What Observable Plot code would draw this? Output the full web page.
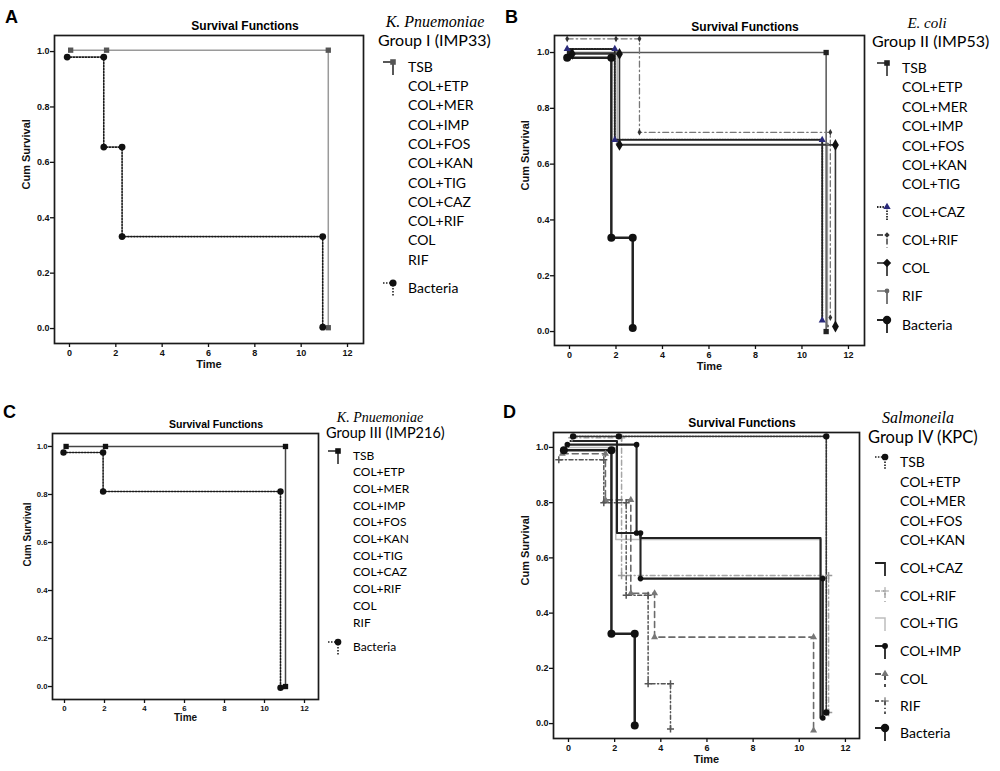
<!DOCTYPE html>
<html><head><meta charset="utf-8">
<script src="https://cdn.jsdelivr.net/npm/d3@7"></script>
<script src="https://cdn.jsdelivr.net/npm/@observablehq/plot@0.6"></script>
<style>
body{margin:0;background:#fff;}
#fig{position:relative;width:1000px;height:771px;overflow:hidden;font-family:"Liberation Sans",Arial,sans-serif;color:#000;}
.abs{position:absolute;white-space:nowrap;line-height:1;}
.letter{font-weight:bold;font-size:18px;}
.ptitle{font-weight:bold;transform:translate(-50%,-50%);}
.species{font-family:"Liberation Serif","Times New Roman",serif;font-style:italic;transform:translate(-50%,-50%);}
.group{font-family:Lato,"Open Sans",sans-serif;transform:translateY(-50%);}
.leg{font-family:Lato,"Open Sans",sans-serif;transform:translateY(-50%);}
</style>
</head><body>
<div id="fig"></div>
<script>
// ---------------- DATA ----------------
const timeTicks = [0, 2, 4, 6, 8, 10, 12];
const survTicks = [0, 0.2, 0.4, 0.6, 0.8, 1.0];

// Panel A: K. Pnuemoniae Group I (IMP33)  [time, cum survival]
const aTSB      = [[0.05,1.005],[1.6,1.005],[11.17,1.005],[11.17,0.003]];
const aBacteria = [[-0.1,0.98],[1.48,0.98],[1.48,0.655],[2.27,0.655],[2.27,0.332],[10.93,0.332],[10.93,0.005]];

// Panel B: E. coli Group II (IMP53)
const bTSB      = [[0,1.0],[11.04,1.0],[11.04,0.0]];
const bCOLCAZ   = [[-0.1,1.013],[1.95,1.013],[1.95,0.687],[10.87,0.687],[10.87,0.04]];
const bCOLRIF   = [[-0.1,1.049],[2.0,1.049],[3.01,1.049],[3.01,0.714],[11.22,0.714],[11.22,0.05]];
const bCOL      = [[0.12,0.995],[2.15,0.995],[2.15,0.669],[11.44,0.669],[11.44,0.018]];
const bRIF      = [[0.05,1.0],[2.05,1.0],[2.05,0.672],[11.1,0.672],[11.1,0.02]];
const bBacteria = [[-0.1,0.981],[1.8,0.981],[1.8,0.336],[2.72,0.336],[2.72,0.013]];

// Panel C: K. Pnuemoniae Group III (IMP216)
const cTSB      = [[0.08,1.0],[2.05,1.0],[11.05,1.0],[11.05,0.0]];
const cBacteria = [[-0.05,0.975],[1.93,0.975],[1.93,0.8125],[10.8,0.8125],[10.8,-0.005]];

// Panel D: Salmoneila Group IV (KPC)
const dTSB      = [[0.2,1.04],[2.18,1.04],[11.17,1.04],[11.17,0.04]];
const dCOLCAZ   = [[0.09,1.023],[2.1,1.023],[2.1,0.69],[3.12,0.69],[3.12,0.672],[10.92,0.672],[10.92,0.02]];
const dCOLRIF   = [[0.15,1.035],[2.3,1.035],[2.3,0.536],[11.27,0.536],[11.27,0.04]];
const dCOLTIG   = [[0.0,1.0],[2.05,1.0],[2.05,0.667],[10.95,0.667],[10.95,0.03]];
const dCOLIMP   = [[-0.05,1.01],[2.95,1.01],[2.95,0.69],[3.12,0.69],[3.12,0.525],[11.02,0.525],[11.02,0.02]];
const dCOL      = [[-0.27,0.977],[1.6,0.977],[1.6,0.81],[2.7,0.81],[2.7,0.472],[3.73,0.472],[3.73,0.313],[10.62,0.313],[10.62,-0.025]];
const dRIF      = [[-0.42,0.955],[1.53,0.955],[1.53,0.8],[2.5,0.8],[2.5,0.465],[3.45,0.465],[3.45,0.144],[4.42,0.144],[4.42,-0.02]];
const dBacteria = [[-0.2,0.99],[1.86,0.99],[1.86,0.325],[2.87,0.325],[2.87,-0.007]];

// Legend labels
const legendABC = ["TSB","COL+ETP","COL+MER","COL+IMP","COL+FOS","COL+KAN","COL+TIG","COL+CAZ","COL+RIF","COL","RIF","Bacteria"];
const legendD   = ["TSB","COL+ETP","COL+MER","COL+FOS","COL+KAN","COL+CAZ","COL+RIF","COL+TIG","COL+IMP","COL","RIF","Bacteria"];

// ---------------- STYLES / LAYOUT ----------------
const st = {
  aTSB:{stroke:"#9a9a9a",width:1.5,symbol:"square",r:3,mfill:"#555"},
  aBac:{stroke:"#1a1a1a",width:1.6,dash:"1.5,1.5",symbol:"circle",r:3.4,mfill:"#111"},
  bTSB:{stroke:"#555",width:1.5,symbol:"square",r:3,mfill:"#222"},
  bCAZ:{stroke:"#222",width:2,dash:"1.5,1.2",symbol:"triangle",r:2.6,mfill:"#2a2a7a"},
  bCRF:{stroke:"#777",width:1.3,dash:"6,3,1.5,3",symbol:"diamond",r:2,mfill:"#333"},
  bCOL:{stroke:"#333",width:1.6,symbol:"diamond",r:3.6,mfill:"#111"},
  bRIF:{stroke:"#9a9a9a",width:1.2,symbol:"circle",r:1.5,mfill:"#666"},
  bBac:{stroke:"#222",width:2.5,symbol:"circle",r:4,mfill:"#111"},
  cTSB:{stroke:"#444",width:1.5,symbol:"square",r:3,mfill:"#111"},
  cBac:{stroke:"#1a1a1a",width:1.6,dash:"1.5,1.5",symbol:"circle",r:3.2,mfill:"#111"},
  dTSB:{stroke:"#333",width:1.7,dash:"1.5,1.4",symbol:"circle",r:3.2,mfill:"#111"},
  dCAZ:{stroke:"#222",width:2.1},
  dCRF:{stroke:"#a5a5a5",width:1.5,dash:"5,3,1,3",symbol:"plus",r:2.5,mfill:"#999"},
  dTIG:{stroke:"#bdbdbd",width:1.5},
  dIMP:{stroke:"#222",width:2.1,symbol:"circle",r:2.8,mfill:"#111"},
  dCOL:{stroke:"#6a6a6a",width:1.6,dash:"6,4",symbol:"triangle",r:2.6,mfill:"#777"},
  dRIF:{stroke:"#555",width:1.5,dash:"4,2.5,1.2,2.5",symbol:"plus",r:2.4,mfill:"#555"},
  dBac:{stroke:"#222",width:2.5,symbol:"circle",r:4,mfill:"#111"}
};

const panels = [
  {left:0, top:0, width:372, height:385, m:[35,9,42,54], x:[-0.647,12.69], y:[-0.054,1.058], timeDy:24, cumDx:-28, tickFs:9, labFs:11, titleFs:12,
   series:[[aTSB,st.aTSB],[aBacteria,st.aBac]],
   letter:["A",5,8], title:[245,26], species:["K. Pnuemoniae",435,22,16], group:["Group I (IMP33)",378,40,16],
   legend:legendABC, legX:408, legFs:14, legY:[67,86,105,125,144,163,183,202,221,240,260,288],
   icons:{0:st.aTSB, 11:st.aBac}},
  {left:500, top:0, width:372, height:385, m:[35,8,40,54], x:[-0.645,12.69], y:[-0.05,1.061], timeDy:24, cumDx:-29, tickFs:9, labFs:11, titleFs:12,
   series:[[bRIF,st.bRIF],[bTSB,st.bTSB],[bCOLRIF,st.bCRF],[bCOLCAZ,st.bCAZ],[bCOL,st.bCOL],[bBacteria,st.bBac]],
   letter:["B",505,8], title:[745,27], species:["E. coli",927,23,15], group:["Group II (IMP53)",872,41,16],
   legend:legendABC, legX:902, legFs:14, legY:[68,87,107,126,146,165,184,212,240,268,296,325],
   icons:{0:st.bTSB, 7:st.bCAZ, 8:st.bCRF, 9:st.bCOL, 10:st.bRIF, 11:st.bBac}},
  {left:0, top:390, width:330, height:381, m:[43,12,72,52], x:[-0.6,12.7], y:[-0.054,1.054], timeDy:21, cumDx:-25, tickFs:7.8, labFs:10, titleFs:10.5,
   series:[[cTSB,st.cTSB],[cBacteria,st.cBac]],
   letter:["C",3,403], title:[216,424], species:["K. Pnuemoniae",380,418,14], group:["Group III (IMP216)",326,433,14.5],
   legend:legendABC, legX:353, legFs:12, legY:[456,472,489,506,522,539,556,572,589,606,623,647],
   icons:{0:st.cTSB, 11:st.cBac}},
  {left:500, top:390, width:370, height:381, m:[42,11,33,53], x:[-0.65,12.61], y:[-0.054,1.054], timeDy:24, cumDx:-28, tickFs:9, labFs:11, titleFs:12,
   series:[[dCOLTIG,st.dTIG],[dCOLRIF,st.dCRF],[dCOL,st.dCOL],[dRIF,st.dRIF],[dCOLCAZ,st.dCAZ],[dCOLIMP,st.dIMP],[dTSB,st.dTSB],[dBacteria,st.dBac]],
   letter:["D",503,403], title:[742,423], species:["Salmoneila",918,418,16], group:["Group IV (KPC)",868,437,16.5],
   legend:legendD, legX:900, legFs:14, legY:[462,482,501,521,540,568,596,623,651,679,706,733],
   icons:{0:st.dTSB, 5:st.dCAZ, 6:st.dCRF, 7:st.dTIG, 8:st.dIMP, 9:st.dCOL, 10:st.dRIF, 11:st.dBac}}
];

const fig = document.getElementById("fig");
function addDiv(cls, text, left, top, extra){
  const d = document.createElement("div");
  d.className = "abs " + cls; d.textContent = text;
  d.style.left = left + "px"; d.style.top = top + "px";
  if (extra) Object.assign(d.style, extra);
  fig.appendChild(d); return d;
}
const symMap = {square:d3.symbolSquare, circle:d3.symbolCircle, triangle:d3.symbolTriangle, diamond:d3.symbolDiamond2, plus:d3.symbolPlus};

for (const p of panels) {
  const marks = [];
  for (const [data, s] of p.series) {
    marks.push(Plot.line(data, {x:d=>d[0], y:d=>d[1], stroke:s.stroke, strokeWidth:s.width, strokeDasharray:s.dash, curve:"linear"}));
  }
  for (const [data, s] of p.series) {
    if (s.symbol) marks.push(Plot.dot(data, {x:d=>d[0], y:d=>d[1], symbol:s.symbol, r:s.r, fill:s.mfill, stroke:s.symbol==="plus"?s.mfill:"none"}));
  }
  marks.push(
    Plot.frame({stroke:"#1a1a1a", strokeWidth:1.7}),
    Plot.axisX({ticks:timeTicks, tickSize:4, tickPadding:2, label:null, tickFormat:d=>String(d), strokeWidth:1.3}),
    Plot.axisY({ticks:survTicks, tickSize:4, tickPadding:1, label:null, tickFormat:d=>d.toFixed(1), strokeWidth:1.3}),
    Plot.text(["Time"], {frameAnchor:"bottom", dy:p.timeDy, text:d=>d, fontSize:p.labFs, fontWeight:"bold", fill:"#111"}),
    Plot.text(["Cum Survival"], {frameAnchor:"left", dx:p.cumDx, rotate:-90, text:d=>d, fontSize:p.labFs, fontWeight:"bold", fill:"#111"})
  );
  const svg = Plot.plot({
    width:p.width, height:p.height,
    marginTop:p.m[0], marginRight:p.m[1], marginBottom:p.m[2], marginLeft:p.m[3],
    x:{domain:p.x}, y:{domain:p.y},
    style:{fontFamily:"'Liberation Sans', Arial, sans-serif", fontSize:p.tickFs+"px", fontWeight:"bold", background:"transparent", color:"#111", overflow:"visible"},
    marks
  });
  const wrap = document.createElement("div");
  wrap.style.cssText = `position:absolute;left:${p.left}px;top:${p.top}px;width:${p.width}px;height:${p.height}px;`;
  wrap.appendChild(svg);
  fig.appendChild(wrap);

  addDiv("letter", p.letter[0], p.letter[1], p.letter[2]);
  addDiv("ptitle", "Survival Functions", p.title[0], p.title[1], {fontSize:p.titleFs+"px"});
  addDiv("species", p.species[0], p.species[1], p.species[2], {fontSize:p.species[3]+"px"});
  addDiv("group", p.group[0], p.group[1], p.group[2], {fontSize:p.group[3]+"px"});
  p.legend.forEach((lab, i) => {
    addDiv("leg", lab, p.legX, p.legY[i], {fontSize:p.legFs+"px"});
    const s = p.icons[i];
    if (s) {
      const ns = "http://www.w3.org/2000/svg";
      const ic = document.createElementNS(ns, "svg");
      ic.setAttribute("width", 22); ic.setAttribute("height", 22);
      ic.style.cssText = `position:absolute;left:${p.legX-26}px;top:${p.legY[i]-11}px;overflow:visible`;
      const path = document.createElementNS(ns, "path");
      path.setAttribute("d", "M1,6H11V19");
      path.setAttribute("fill", "none"); path.setAttribute("stroke", s.stroke === "#bdbdbd" || s.stroke === "#a5a5a5" ? s.stroke : "#222");
      path.setAttribute("stroke-width", Math.min(s.width, 1.8));
      if (s.dash) path.setAttribute("stroke-dasharray", s.dash);
      ic.appendChild(path);
      if (s.symbol) {
        const m = document.createElementNS(ns, "path");
        m.setAttribute("d", d3.symbol(symMap[s.symbol], Math.max(18, Math.PI*s.r*s.r*1.1))());
        m.setAttribute("transform", "translate(11,6)");
        m.setAttribute("fill", s.mfill);
        if (s.symbol === "plus") { m.setAttribute("stroke", s.mfill); }
        ic.appendChild(m);
      }
      fig.appendChild(ic);
    }
  });
}
</script>
</body></html>
